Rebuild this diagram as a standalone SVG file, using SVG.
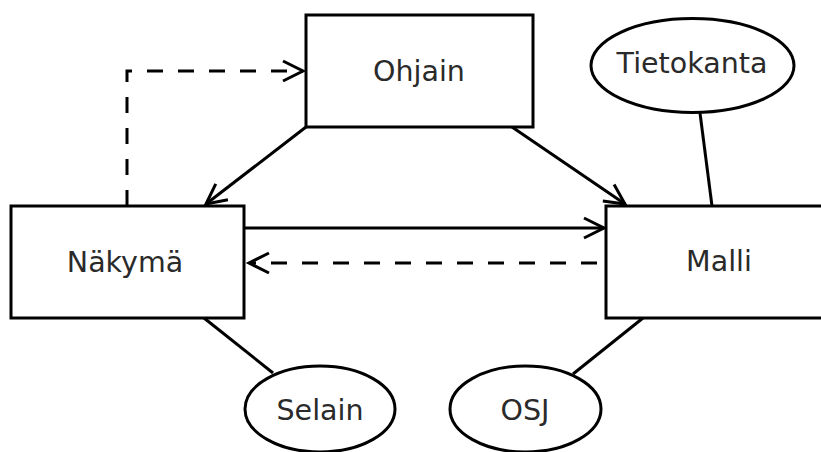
<svg xmlns="http://www.w3.org/2000/svg" width="821" height="452" viewBox="0 0 821 452">
<style>
.box{fill:#fff;stroke:#000;stroke-width:3}
.lbl{font-family:"DejaVu Sans",sans-serif;font-size:28.5px;fill:#2a2a2a;text-anchor:middle}
.c{fill:none;stroke:#000;stroke-width:3}
.d{stroke-dasharray:16 15}
</style>
<defs>
<marker id="a" markerUnits="userSpaceOnUse" markerWidth="30" markerHeight="30" refX="22" refY="11" orient="auto" overflow="visible">
<path d="M2,1 L22,11 L2,21" fill="none" stroke="#000" stroke-width="3"/>
</marker>
</defs>
<rect width="821" height="452" fill="#fff"/>
<g id="connectors">
<path class="c d" d="M127,206 V71 H303" marker-end="url(#a)"/>
<path class="c" d="M306,127 L206,204" marker-end="url(#a)"/>
<path class="c" d="M512,127 L625,204" marker-end="url(#a)"/>
<path class="c" d="M244,228 H604" marker-end="url(#a)"/>
<path class="c d" d="M597,263 H249" marker-end="url(#a)"/>
<path class="c" d="M700,113 L712,206"/>
<path class="c" d="M204,318 L273,373"/>
<path class="c" d="M643,318 L573,374"/>
</g>
<g id="ohjain">
<rect class="box" x="306" y="15" width="227" height="112"/>
<text class="lbl" x="419" y="81">Ohjain</text>
</g>
<g id="tietokanta">
<ellipse class="box" cx="692.5" cy="65.5" rx="101.5" ry="47"/>
<text class="lbl" x="692" y="73">Tietokanta</text>
</g>
<g id="nakyma">
<rect class="box" x="11" y="206" width="233" height="112"/>
<text class="lbl" x="125" y="272">Näkymä</text>
</g>
<g id="malli">
<rect class="box" x="606" y="206" width="227" height="112"/>
<text class="lbl" x="719" y="271">Malli</text>
</g>
<g id="selain">
<ellipse class="box" cx="320" cy="409" rx="75" ry="43"/>
<text class="lbl" x="320" y="420">Selain</text>
</g>
<g id="osj">
<ellipse class="box" cx="525.5" cy="409" rx="75.5" ry="43"/>
<text class="lbl" x="525" y="420">OSJ</text>
</g>
</svg>
